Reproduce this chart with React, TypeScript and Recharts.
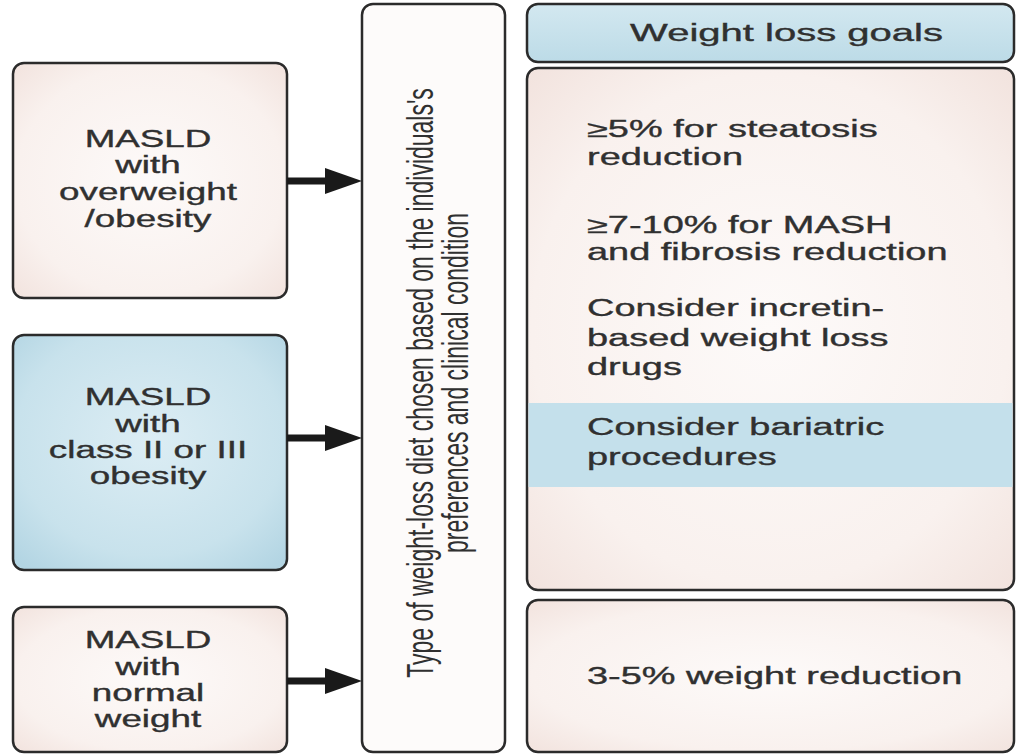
import { ComposedChart, XAxis, YAxis, ReferenceArea, ReferenceLine } from 'recharts'

const W = 1018
const H = 754

// left column: patient groups
const groupLines = [
  ['MASLD', 'with', 'overweight', '/obesity'],
  ['MASLD', 'with', 'class II or III', 'obesity'],
  ['MASLD', 'with', 'normal', 'weight'],
]
const groupTop = [63, 335, 607]
const groupBottom = [298, 570, 752]
const groupTone = ['pink', 'blue', 'pink']
const groupBaselines = [
  [147, 173, 200, 227],
  [405, 432, 458, 484],
  [648, 675, 701, 727],
]
const arrowY = [181, 438, 681]

// centre column
const dietLines = [
  "Type of weight-loss diet chosen based on the individuals's",
  'preferences and clinical condition',
]

// right column: goals
const headerText = 'Weight loss goals'
const goalLines = [
  '≥5% for steatosis', 'reduction',
  '≥7-10% for MASH', 'and fibrosis reduction',
  'Consider incretin-', 'based weight loss', 'drugs',
  'Consider bariatric', 'procedures',
]
const goalBaselines = [137, 165, 233, 260, 316, 346, 375, 435, 465]
const normalGoal = '3-5% weight reduction'

const COL_LEFT = [13, 287]
const COL_MID = [362, 505]
const COL_RIGHT = [527, 1014]
const HEADER_Y = [4, 62]
const GOALS_Y = [68, 590]
const BAND_Y = [403, 487]
const NORMAL_Y = [600, 752]

const FONT = '"Liberation Sans", Arial, sans-serif'
const INK = '#2b2b2b'
const TEXT = '#303030'

const fills: Record<string, string> = {
  pink: 'url(#pinkFill)',
  blue: 'url(#blueFill)',
  header: 'url(#headerFill)',
  white: '#fdfbfa',
}

function Gradients() {
  return (
    <defs>
      <radialGradient id="pinkFill" cx="50%" cy="50%" r="70%">
        <stop offset="0%" stopColor="#fdfaf9" />
        <stop offset="70%" stopColor="#f9f1ee" />
        <stop offset="100%" stopColor="#f2e3de" />
      </radialGradient>
      <radialGradient id="blueFill" cx="50%" cy="45%" r="70%">
        <stop offset="0%" stopColor="#dcedf4" />
        <stop offset="70%" stopColor="#c8e2ec" />
        <stop offset="100%" stopColor="#b3d5e3" />
      </radialGradient>
      <linearGradient id="headerFill" x1="0" y1="0" x2="0" y2="1">
        <stop offset="0%" stopColor="#d3e8f0" />
        <stop offset="100%" stopColor="#bcdbe7" />
      </linearGradient>
    </defs>
  )
}

function Label({ x, y, text, anchor = 'middle', sx = 1.6 }: { x: number; y: number; text: string; anchor?: string; sx?: number }) {
  return (
    <text transform={`translate(${x},${y}) scale(${sx},1)`} textAnchor={anchor as any}
      fontFamily={FONT} fontSize={23} fill={TEXT} stroke={TEXT} strokeWidth={0.35}>
      {text}
    </text>
  )
}

function groupShape(i: number) {
  return (p: any) => {
    const k = p.height / (groupBottom[i] - groupTop[i])
    return (
      <g>
        {i === 0 && <Gradients />}
        <rect x={p.x} y={p.y} width={p.width} height={p.height} rx={11} ry={11}
          fill={fills[groupTone[i]]} stroke={INK} strokeWidth={2.5} />
        {groupLines[i].map((t, j) => (
          <Label key={j} x={p.x + p.width / 2 - 2} y={p.y + (groupBaselines[i][j] - groupTop[i]) * k} text={t} />
        ))}
      </g>
    )
  }
}

function dietShape(p: any) {
  const cx = p.x + p.width / 2
  const cy = p.y + p.height / 2 + 5
  return (
    <g>
      <rect x={p.x} y={p.y} width={p.width} height={p.height} rx={11} ry={11}
        fill={fills.white} stroke={INK} strokeWidth={2.5} />
      {dietLines.map((t, j) => (
        <text key={j} transform={`translate(${cx - 13 + j * 35},${cy}) scale(1.6,1) rotate(-90)`}
          textAnchor="middle" dominantBaseline="central" fontFamily={FONT} fontSize={23} fill={TEXT}>
          {t}
        </text>
      ))}
    </g>
  )
}

function headerShape(p: any) {
  return (
    <g>
      <rect x={p.x} y={p.y} width={p.width} height={p.height} rx={11} ry={11}
        fill={fills.header} stroke={INK} strokeWidth={2.5} />
      <Label x={p.x + p.width / 2 + 16} y={p.y + p.height / 2 + 8} text={headerText} sx={1.74} />
    </g>
  )
}

function goalsShape(p: any) {
  const k = p.height / (GOALS_Y[1] - GOALS_Y[0])
  const bandTop = p.y + (BAND_Y[0] - GOALS_Y[0]) * k
  const bandH = (BAND_Y[1] - BAND_Y[0]) * k
  return (
    <g>
      <rect x={p.x} y={p.y} width={p.width} height={p.height} rx={11} ry={11}
        fill={fills.pink} stroke={INK} strokeWidth={2.5} />
      <rect x={p.x + 1.5} y={bandTop} width={p.width - 3} height={bandH} fill="#c4e0eb" />
      {goalLines.map((t, j) => (
        <Label key={j} x={p.x + 60} y={p.y + (goalBaselines[j] - GOALS_Y[0]) * k} text={t} anchor="start" sx={1.65} />
      ))}
    </g>
  )
}

function normalShape(p: any) {
  return (
    <g>
      <rect x={p.x} y={p.y} width={p.width} height={p.height} rx={11} ry={11}
        fill={fills.pink} stroke={INK} strokeWidth={2.5} />
      <Label x={p.x + 60} y={p.y + p.height / 2 + 8} text={normalGoal} anchor="start" sx={1.65} />
    </g>
  )
}

function arrowShape(p: any) {
  const { x1, y1, x2 } = p
  const head = 37
  return (
    <g>
      <line x1={x1} y1={y1} x2={x2 - head + 2} y2={y1} stroke="#1a1a1a" strokeWidth={7} />
      <polygon points={`${x2 - head},${y1 - 13} ${x2},${y1} ${x2 - head},${y1 + 13}`} fill="#1a1a1a" />
    </g>
  )
}

export default function App() {
  return (
    <div style={{ position: 'absolute', left: 0, top: 0, width: W, height: H, background: '#fff' }}>
      <ComposedChart width={W} height={H} data={[]} margin={{ top: 0, right: 0, bottom: 0, left: 0 }}>
        <XAxis type="number" dataKey="x" domain={[0, W]} hide allowDataOverflow />
        <YAxis type="number" dataKey="y" domain={[0, H]} reversed hide allowDataOverflow />
        {groupLines.map((_, i) => (
          <ReferenceArea key={`g${i}`} x1={COL_LEFT[0]} x2={COL_LEFT[1]} y1={groupTop[i]} y2={groupBottom[i]}
            ifOverflow="visible" shape={groupShape(i)} />
        ))}
        {arrowY.map((y, i) => (
          <ReferenceLine key={`a${i}`} segment={[{ x: COL_LEFT[1], y }, { x: COL_MID[0], y }]}
            ifOverflow="visible" shape={arrowShape} />
        ))}
        <ReferenceArea x1={COL_MID[0]} x2={COL_MID[1]} y1={4} y2={752} ifOverflow="visible" shape={dietShape} />
        <ReferenceArea x1={COL_RIGHT[0]} x2={COL_RIGHT[1]} y1={HEADER_Y[0]} y2={HEADER_Y[1]}
          ifOverflow="visible" shape={headerShape} />
        <ReferenceArea x1={COL_RIGHT[0]} x2={COL_RIGHT[1]} y1={GOALS_Y[0]} y2={GOALS_Y[1]}
          ifOverflow="visible" shape={goalsShape} />
        <ReferenceArea x1={COL_RIGHT[0]} x2={COL_RIGHT[1]} y1={NORMAL_Y[0]} y2={NORMAL_Y[1]}
          ifOverflow="visible" shape={normalShape} />
      </ComposedChart>
    </div>
  )
}
